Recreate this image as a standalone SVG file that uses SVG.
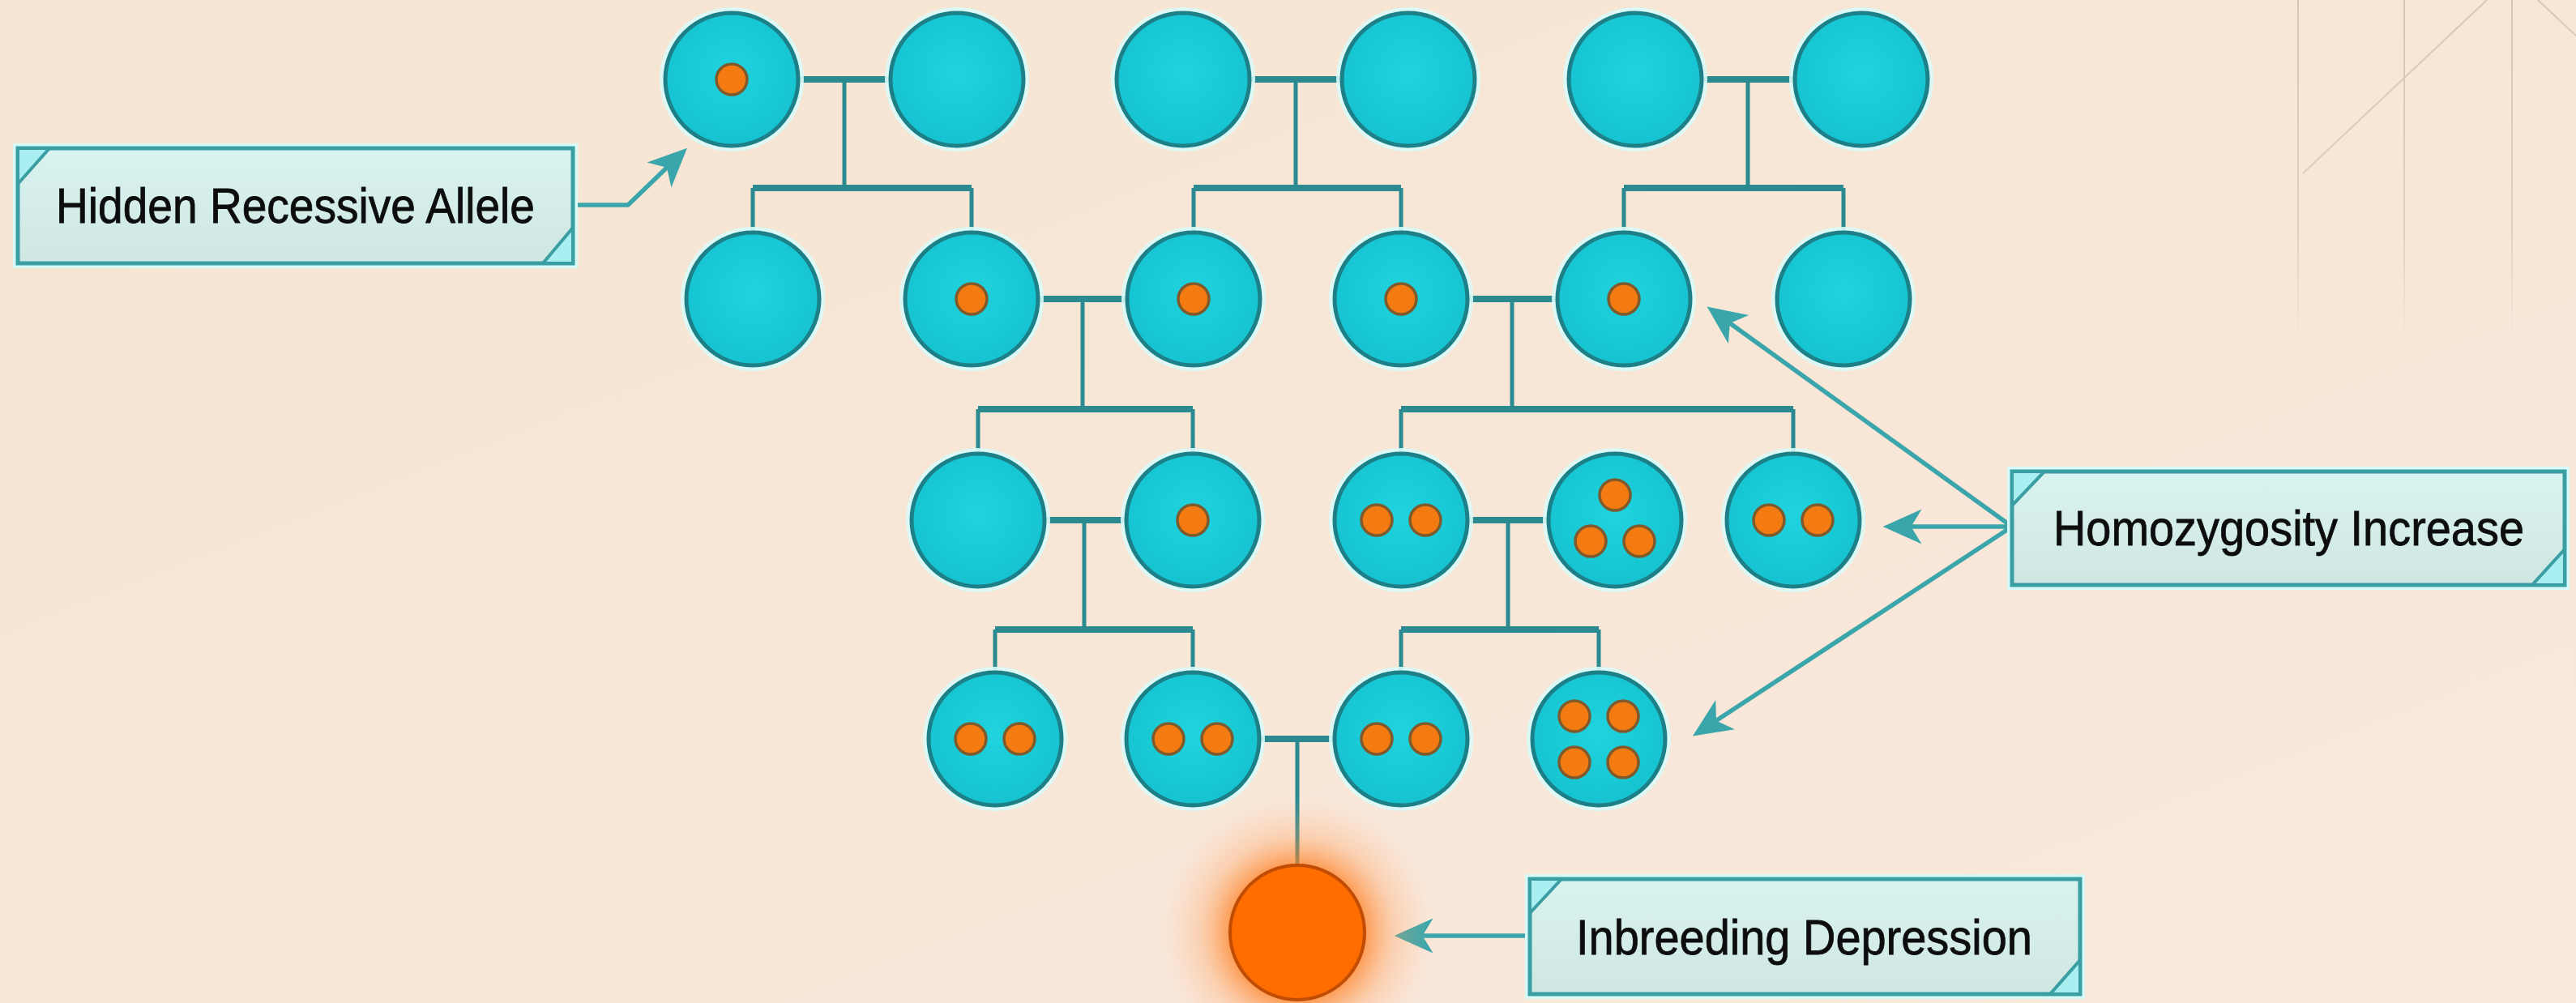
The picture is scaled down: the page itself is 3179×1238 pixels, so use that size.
<svg xmlns="http://www.w3.org/2000/svg" width="3179" height="1238" viewBox="0 0 3179 1238">
<defs>
<style>
.p{fill:url(#cg);stroke:#1d7f87;stroke-width:5}
.halo{fill:none;stroke:#d8fbf8;stroke-width:10;opacity:0.9}
.d{fill:#f47a12;stroke:#7e5a2c;stroke-width:3.5}
.cpl{stroke:#2a8a90;stroke-width:8;fill:none}
.sib{stroke:#2a8a90;stroke-width:8;fill:none}
.vl{stroke:#2a8a90;stroke-width:5;fill:none}
.ar{stroke:#3aa6ab;stroke-width:5.5;fill:none;stroke-linejoin:round}
.box{fill:url(#bg2);stroke:#3a9ea2;stroke-width:5}
.boxhalo{fill:none;stroke:#d6fbf9;stroke-width:12}
.tri{fill:#a9eef0;stroke:#3a9ea2;stroke-width:4;stroke-linejoin:miter}
.lbl{font-family:"Liberation Sans",Arial,sans-serif;font-size:61px;fill:#0d0d0d;stroke:#0d0d0d;stroke-width:0.8}
.deco{stroke:url(#fade);stroke-width:2;fill:none}
</style>
<linearGradient id="bgg" x1="0" y1="0" x2="1" y2="1">
<stop offset="0" stop-color="#f6e5d2"/>
<stop offset="1" stop-color="#fae8dc"/>
</linearGradient>
<linearGradient id="fade" gradientUnits="userSpaceOnUse" x1="0" y1="0" x2="0" y2="410">
<stop offset="0" stop-color="#d6c7b8"/>
<stop offset="0.7" stop-color="#dfd0c2"/>
<stop offset="1" stop-color="#f7e6d8"/>
</linearGradient>
<radialGradient id="cg" cx="0.5" cy="0.45" r="0.6">
<stop offset="0" stop-color="#1fd3df"/>
<stop offset="1" stop-color="#15c2cf"/>
</radialGradient>
<linearGradient id="bg2" x1="0" y1="0" x2="0" y2="1">
<stop offset="0" stop-color="#d9f3f0"/>
<stop offset="1" stop-color="#cfe7e3"/>
</linearGradient>
<radialGradient id="glow" cx="0.5" cy="0.5" r="0.5">
<stop offset="0.5" stop-color="#ff7a1a" stop-opacity="0.7"/>
<stop offset="0.72" stop-color="#ff9a50" stop-opacity="0.3"/>
<stop offset="1" stop-color="#ffb080" stop-opacity="0"/>
</radialGradient>
<marker id="ah" markerUnits="userSpaceOnUse" markerWidth="60" markerHeight="60" viewBox="0 -25 45 50" refX="18" refY="0" orient="auto">
<path d="M40,0 L0,-18 L11,0 L0,18 Z" fill="#3aa6ab"/>
</marker>
</defs>

<rect x="0" y="0" width="3179" height="1238" fill="url(#bgg)"/>
<g id="decor">
<line class="deco" x1="2836" y1="0" x2="2836.01" y2="410"/>
<line class="deco" x1="2967" y1="0" x2="2967.01" y2="410"/>
<line class="deco" x1="3100" y1="0" x2="3100.01" y2="410"/>
<line class="deco" x1="2842" y1="214" x2="3069" y2="0"/>
<line class="deco" x1="3132" y1="0" x2="3179" y2="44"/>
</g>

<g id="connectors">
<path class="cpl" d="M985,98 H1099 M1542,98 H1656 M2100,98 H2215"/>
<path class="vl" d="M1042,98 V232 M1599,98 V232 M2157,98 V232"/>
<path class="sib" d="M929,232 H1199 M1473,232 H1729 M2004,232 H2275"/>
<path class="vl" d="M929,232 V286 M1199,232 V286 M1473,232 V286 M1729,232 V286 M2004,232 V286 M2275,232 V286"/>
<path class="cpl" d="M1281,369 H1391 M1811,369 H1922"/>
<path class="vl" d="M1336,369 V505 M1866,369 V505"/>
<path class="sib" d="M1207,505 H1472 M1729,505 H2213"/>
<path class="vl" d="M1207,505 V559 M1472,505 V559 M1729,505 V559 M2213,505 V559"/>
<path class="cpl" d="M1289,642 H1390 M1811,642 H1911"/>
<path class="vl" d="M1338,642 V777 M1861,642 V777"/>
<path class="sib" d="M1228,777 H1472 M1729,777 H1973"/>
<path class="vl" d="M1228,777 V829 M1472,777 V829 M1729,777 V829 M1973,777 V829"/>
<path class="cpl" d="M1554,912 H1647"/>
<path class="vl" d="M1601,912 V1068"/>
<path class="ar" d="M707,253 H775 L829,201" marker-end="url(#ah)"/>
<path class="ar" d="M2483,650 L2128,394" marker-end="url(#ah)"/>
<path class="ar" d="M2483,650 H2350" marker-end="url(#ah)"/>
<path class="ar" d="M2483,650 L2111,894" marker-end="url(#ah)"/>
<path class="ar" d="M1888,1155 H1747" marker-end="url(#ah)"/>
</g>

<g id="gen1">
<g id="n1a"><circle class="halo" cx="903" cy="98" r="84"/><circle class="p" cx="903" cy="98" r="82"/><circle class="d" cx="903" cy="98" r="19"/></g>
<g id="n1b"><circle class="halo" cx="1181" cy="98" r="84"/><circle class="p" cx="1181" cy="98" r="82"/></g>
<g id="n1c"><circle class="halo" cx="1460" cy="98" r="84"/><circle class="p" cx="1460" cy="98" r="82"/></g>
<g id="n1d"><circle class="halo" cx="1738" cy="98" r="84"/><circle class="p" cx="1738" cy="98" r="82"/></g>
<g id="n1e"><circle class="halo" cx="2018" cy="98" r="84"/><circle class="p" cx="2018" cy="98" r="82"/></g>
<g id="n1f"><circle class="halo" cx="2297" cy="98" r="84"/><circle class="p" cx="2297" cy="98" r="82"/></g>
</g>

<g id="gen2">
<g id="n2a"><circle class="halo" cx="929" cy="369" r="84"/><circle class="p" cx="929" cy="369" r="82"/></g>
<g id="n2b"><circle class="halo" cx="1199" cy="369" r="84"/><circle class="p" cx="1199" cy="369" r="82"/><circle class="d" cx="1199" cy="369" r="19"/></g>
<g id="n2c"><circle class="halo" cx="1473" cy="369" r="84"/><circle class="p" cx="1473" cy="369" r="82"/><circle class="d" cx="1473" cy="369" r="19"/></g>
<g id="n2d"><circle class="halo" cx="1729" cy="369" r="84"/><circle class="p" cx="1729" cy="369" r="82"/><circle class="d" cx="1729" cy="369" r="19"/></g>
<g id="n2e"><circle class="halo" cx="2004" cy="369" r="84"/><circle class="p" cx="2004" cy="369" r="82"/><circle class="d" cx="2004" cy="369" r="19"/></g>
<g id="n2f"><circle class="halo" cx="2275" cy="369" r="84"/><circle class="p" cx="2275" cy="369" r="82"/></g>
</g>

<g id="gen3">
<g id="n3a"><circle class="halo" cx="1207" cy="642" r="84"/><circle class="p" cx="1207" cy="642" r="82"/></g>
<g id="n3b"><circle class="halo" cx="1472" cy="642" r="84"/><circle class="p" cx="1472" cy="642" r="82"/><circle class="d" cx="1472" cy="642" r="19"/></g>
<g id="n3c"><circle class="halo" cx="1729" cy="642" r="84"/><circle class="p" cx="1729" cy="642" r="82"/><circle class="d" cx="1699" cy="642" r="19"/><circle class="d" cx="1759" cy="642" r="19"/></g>
<g id="n3d"><circle class="halo" cx="1993" cy="642" r="84"/><circle class="p" cx="1993" cy="642" r="82"/><circle class="d" cx="1993" cy="611" r="19"/><circle class="d" cx="1963" cy="668" r="19"/><circle class="d" cx="2023" cy="668" r="19"/></g>
<g id="n3e"><circle class="halo" cx="2213" cy="642" r="84"/><circle class="p" cx="2213" cy="642" r="82"/><circle class="d" cx="2183" cy="642" r="19"/><circle class="d" cx="2243" cy="642" r="19"/></g>
</g>

<g id="gen4">
<g id="n4a"><circle class="halo" cx="1228" cy="912" r="84"/><circle class="p" cx="1228" cy="912" r="82"/><circle class="d" cx="1198" cy="912" r="19"/><circle class="d" cx="1258" cy="912" r="19"/></g>
<g id="n4b"><circle class="halo" cx="1472" cy="912" r="84"/><circle class="p" cx="1472" cy="912" r="82"/><circle class="d" cx="1442" cy="912" r="19"/><circle class="d" cx="1502" cy="912" r="19"/></g>
<g id="n4c"><circle class="halo" cx="1729" cy="912" r="84"/><circle class="p" cx="1729" cy="912" r="82"/><circle class="d" cx="1699" cy="912" r="19"/><circle class="d" cx="1759" cy="912" r="19"/></g>
<g id="n4d"><circle class="halo" cx="1973" cy="912" r="84"/><circle class="p" cx="1973" cy="912" r="82"/><circle class="d" cx="1943" cy="884" r="19"/><circle class="d" cx="2003" cy="884" r="19"/><circle class="d" cx="1943" cy="941" r="19"/><circle class="d" cx="2003" cy="941" r="19"/></g>
</g>

<g id="affected">
<circle cx="1601" cy="1151" r="165" fill="url(#glow)"/>
<circle cx="1601" cy="1151" r="83" fill="#ff6c00" stroke="#c14d05" stroke-width="4"/>
</g>

<g id="label-hidden">
<rect class="boxhalo" x="22" y="183" width="685" height="142"/>
<rect class="box" x="22" y="183" width="685" height="142"/>
<path class="tri" d="M22,183 H61 L22,227 Z"/>
<path class="tri" d="M707,325 H670 L707,281 Z"/>
<text class="lbl" x="69" y="275" textLength="591" lengthAdjust="spacingAndGlyphs">Hidden Recessive Allele</text>
</g>

<g id="label-homo">
<rect class="boxhalo" x="2483" y="582" width="682" height="140"/>
<rect class="box" x="2483" y="582" width="682" height="140"/>
<path class="tri" d="M2483,582 H2523 L2483,624 Z"/>
<path class="tri" d="M3165,722 H3125 L3165,678 Z"/>
<text class="lbl" x="2534" y="673" textLength="581" lengthAdjust="spacingAndGlyphs">Homozygosity Increase</text>
</g>

<g id="label-inbreeding">
<rect class="boxhalo" x="1888" y="1085" width="679" height="142"/>
<rect class="box" x="1888" y="1085" width="679" height="142"/>
<path class="tri" d="M1888,1085 H1927 L1888,1127 Z"/>
<path class="tri" d="M2567,1227 H2530 L2567,1185 Z"/>
<text class="lbl" x="1945" y="1178" textLength="563" lengthAdjust="spacingAndGlyphs">Inbreeding Depression</text>
</g>
</svg>
